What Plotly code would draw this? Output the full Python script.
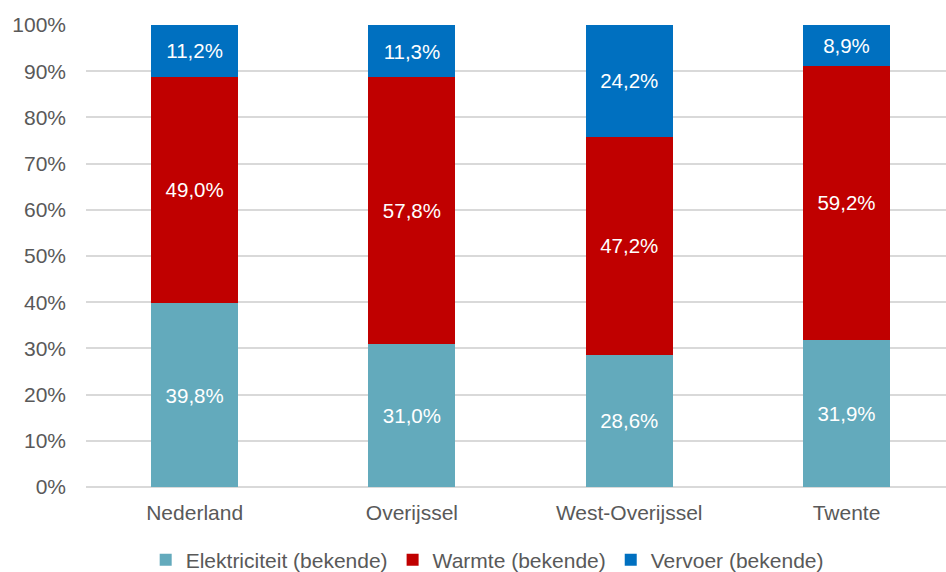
import plotly.graph_objects as go

# Energy use share per region, by category (percent)
regions = ["Nederland", "Overijssel", "West-Overijssel", "Twente"]
elektriciteit = [39.8, 31.0, 28.6, 31.9]
warmte = [49.0, 57.8, 47.2, 59.2]
vervoer = [11.2, 11.3, 24.2, 8.9]

series_names = ["Elektriciteit (bekende)", "Warmte (bekende)", "Vervoer (bekende)"]
series_values = [elektriciteit, warmte, vervoer]
series_colors = ["#63AABC", "#C00000", "#0070C0"]

y_ticks = list(range(0, 101, 10))
y_tick_text = [f"{v}%" for v in y_ticks]

FONT = "Liberation Sans, Arial, sans-serif"
GREY = "#595959"


def fmt(v):
    return f"{v:.1f}".replace(".", ",") + "%"


fig = go.Figure()
for name, vals, color in zip(series_names, series_values, series_colors):
    fig.add_trace(go.Bar(
        x=regions,
        y=vals,
        name=name,
        marker=dict(color=color, line=dict(width=0)),
        text=[fmt(v) for v in vals],
        textposition="inside",
        insidetextanchor="middle",
        textangle=0,
        textfont=dict(family=FONT, size=20.5, color="white"),
        width=0.4,
    ))

fig.update_layout(
    barmode="stack",
    barnorm="percent",
    width=946,
    height=572,
    margin=dict(l=86, r=0, t=25, b=85),
    paper_bgcolor="white",
    plot_bgcolor="white",
    font=dict(family=FONT, size=21, color=GREY),
    uniformtext=dict(mode=False),
    showlegend=True,
    legend=dict(
        orientation="h",
        xref="container",
        yref="container",
        x=0.515,
        xanchor="center",
        y=0.021,
        yanchor="middle",
        font=dict(family=FONT, size=21, color=GREY),
        itemwidth=30,
        traceorder="normal",
    ),
    xaxis=dict(
        range=[-0.5, 3.458],
        showgrid=False,
        showline=False,
        ticks="",
        ticklabelstandoff=11,
        tickfont=dict(family=FONT, size=21, color=GREY),
        fixedrange=True,
    ),
    yaxis=dict(
        range=[0, 100],
        tickvals=y_ticks,
        ticktext=y_tick_text,
        showgrid=True,
        gridcolor="#D9D9D9",
        gridwidth=1.5,
        zeroline=True,
        zerolinecolor="#D9D9D9",
        zerolinewidth=1.5,
        ticks="",
        ticklabelstandoff=19,
        tickfont=dict(family=FONT, size=21, color=GREY),
        fixedrange=True,
    ),
)

fig.write_html("out.html")
